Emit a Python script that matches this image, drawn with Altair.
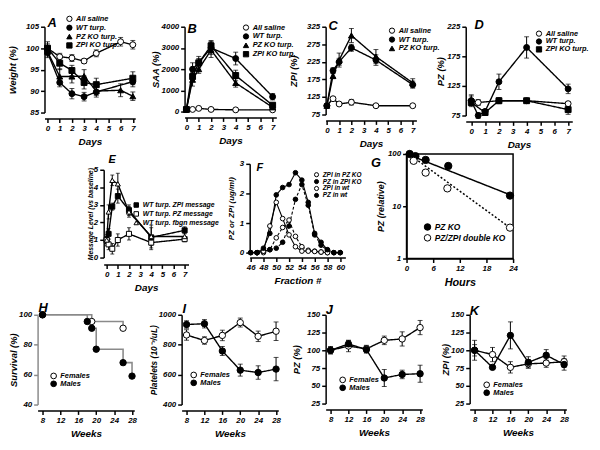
import altair as alt
import pandas as pd

FONT = "Liberation Sans"

# ---------------- data ----------------
# A: body weight (%)
A_SERIES = ["All saline", "WT turp.", "PZ KO turp.", "ZPI KO turp."]
A_X = [[0, 1, 2, 3, 4, 6, 7], [0, 1, 2, 3, 4, 7], [0, 1, 2, 3, 4, 6, 7], [0, 1, 2, 3, 4, 7]]
A_Y = [[100, 98, 97.7, 97, 98.8, 101.5, 100.8],
       [99, 92, 89.4, 88.7, 89.8, 92.2],
       [99.2, 93.4, 93.4, 93.5, 90, 90.2, 88.8],
       [100, 96.5, 94.8, 92, 91.5, 93]]
A_E = [[1.5, 0.8, 0.8, 0.5, 0.8, 1.0, 1.0],
       [1.2, 1.0, 1.2, 1.0, 1.2, 1.2],
       [1.0, 1.8, 1.5, 1.5, 1.0, 1.5, 1.0],
       [1.0, 1.5, 1.2, 1.5, 1.5, 1.5]]

# B: SAA (%)
B_SERIES = ["All saline", "WT turp.", "PZ KO turp.", "ZPI KO turp."]
B_X = [[0, 0.5, 1, 2, 4, 7]] * 4
B_Y = [[100, 100, 150, 100, 80, 80],
       [100, 2000, 2300, 3000, 2500, 700],
       [100, 1500, 2000, 2900, 1350, 200],
       [100, 1650, 2300, 3100, 1700, 300]]
B_E = [[0, 0, 0, 0, 0, 0],
       [0, 300, 300, 300, 300, 150],
       [0, 300, 200, 350, 200, 80],
       [0, 200, 200, 250, 250, 100]]

# C: ZPI (%)
C_SERIES = ["All saline", "WT turp.", "PZ KO turp."]
C_X = [[0, 0.5, 1, 2, 4, 7]] * 3
C_Y = [[100, 120, 105, 110, 100, 100],
       [100, 200, 225, 265, 230, 160],
       [100, 185, 230, 300, 240, 165]]
C_E = [[3, 5, 3, 8, 3, 3],
       [5, 8, 10, 10, 15, 10],
       [5, 8, 20, 20, 20, 12]]

# D: PZ (%)
D_SERIES = ["All saline", "WT turp.", "ZPI KO turp."]
D_X = [[0, 0.5, 2, 4, 7], [0, 0.5, 1, 2, 4, 7], [0, 1, 2, 4, 7]]
D_Y = [[100, 97, 100, 100, 95],
       [100, 75, 82, 132, 190, 120],
       [97, 80, 100, 100, 85]]
D_E = [[8, 5, 3, 3, 3],
       [10, 5, 3, 13, 18, 8],
       [5, 5, 5, 3, 8]]

# E: message level (vs baseline)
E_SERIES = ["WT turp. ZPI message", "WT turp. PZ message", "WT turp. fbgn message"]
E_X = [[0, 0.17, 0.5, 1, 2, 4, 7]] * 3
E_Y = [[1.0, 1.35, 2.9, 3.5, 2.7, 1.15, 1.55],
       [1.0, 0.75, 0.5, 1.0, 1.35, 0.85, 1.05],
       [1.0, 2.6, 4.4, 4.2, 2.6, 1.2, 1.2]]
E_E = [[0.2, 0.3, 0.2, 0.4, 0.3, 0.7, 0.2],
       [0.2, 0.3, 0.3, 0.35, 0.35, 0.3, 0.15],
       [0.3, 0.4, 0.3, 0.6, 0.3, 0.5, 0.2]]

# F: fractionation profiles
F_SERIES = ["ZPI in PZ KO", "PZ in ZPI KO", "ZPI in wt", "PZ in wt"]
F_X = [list(range(47, 59)), list(range(46, 61)), list(range(47, 59)), list(range(46, 61))]
F_Y = [[0, 0, 0.1, 0.5, 0.85, 1.1, 0.55, 0.2, 0.08, 0.05, 0.02, 0],
       [0, 0, 0.05, 0.1, 0.15, 0.35, 0.9, 1.8, 2.3, 1.6, 0.6, 0.25, 0.08, 0, 0],
       [0, 0.05, 0.9, 1.7, 1.15, 0.6, 0.2, 0.05, 0.05, 0.04, 0.02, 0],
       [0, 0, 0.15, 0.65, 1.95, 2.2, 2.3, 2.7, 2.45, 1.7, 0.65, 0.35, 0.1, 0, 0]]

# G: clearance (relative, log)
G_SERIES = ["PZ KO", "PZ/ZPI double KO"]
G_X = [[0.7, 2, 4.3, 9.4, 23.3], [1.6, 4.3, 9.2, 23.3]]
G_Y = [[100, 91, 77, 59, 16], [74, 44, 22, 3.9]]
G_FIT_X = [[0, 23.3], [0.5, 23.3]]
G_FIT_Y = [[100, 16.6], [100, 3.9]]

# H: survival (%)
H_SERIES = ["Females", "Males"]
H_X = [[8, 19, 26], [8, 18, 19, 20, 26, 28]]
H_Y = [[100, 95.5, 91], [100, 95.5, 91, 77, 68, 59]]

# I: platelets
WEEKS = [8, 12, 16, 20, 24, 28]
I_Y = [[865, 828, 862, 948, 856, 890], [935, 940, 758, 630, 614, 637]]
I_E = [[35, 25, 35, 30, 35, 62], [25, 28, 30, 40, 45, 78]]

# J: PZ (%)
J_Y = [[100, 106, 102, 114, 116, 132], [100, 109, 101, 61, 66, 67]]
J_E = [[5, 8, 5, 6, 10, 10], [5, 5, 5, 12, 6, 12]]

# K: ZPI (%)
K_Y = [[100, 94, 76, 81, 82, 84], [100, 76, 121, 83, 93, 80]]
K_E = [[14, 10, 8, 6, 6, 8], [8, 3, 19, 8, 8, 8]]

SEX = ["Females", "Males"]

DASH_NAMES = ["solid", "dash", "dot"]
DASH_VALUES = [[1, 0], [3, 2], [2, 2]]


def frame(series, xs, ys, es=None, dashes=None):
    rows = []
    for k, s in enumerate(series):
        for i, (x, y) in enumerate(zip(xs[k], ys[k])):
            e = es[k][i] if es else 0
            d = dashes[k] if dashes else "solid"
            rows.append({"s": s, "d": d, "x": x, "y": y, "lo": y - e, "hi": y + e, "e": e})
    return pd.DataFrame(rows)


def panel(df, series, shapes, fills, w, h, xdom, xvals, ydom, yvals,
          xtitle, ytitle, letter, tdx, tdy, legx, legy, clip=8, lfs=7.5,
          size=36, xoff=6, ylog=False, boxed=False, line_color="black",
          step=False, ycolor="black", fit=None, lw=1.4, ytfs=9.5, xtfs=10, cap=5,
          ytp=2, tfs=13):
    xs = alt.Scale(domain=xdom, nice=False, zero=False)
    ys = alt.Scale(domain=ydom, nice=False, zero=False,
                   type="log" if ylog else "linear")
    xax = alt.Axis(values=xvals, title=xtitle, offset=xoff, titleFontSize=xtfs, format="d")
    yax = alt.Axis(values=yvals, title=ytitle, domainColor=ycolor, tickColor=ycolor,
                   titleFontSize=ytfs, format="d", titlePadding=ytp)
    X = alt.X("x:Q", scale=xs, axis=xax)
    Y = alt.Y("y:Q", scale=ys, axis=yax)
    base = alt.Chart(df)
    eb = base.transform_filter("datum.e > 0")
    layers = [
        eb.mark_rule(color="black", strokeWidth=1).encode(
            x=X, y=alt.Y("lo:Q", scale=ys, axis=yax), y2="hi:Q"),
        eb.mark_tick(color="black", orient="horizontal", size=cap, thickness=1).encode(
            x=X, y=alt.Y("lo:Q", scale=ys, axis=yax)),
        eb.mark_tick(color="black", orient="horizontal", size=cap, thickness=1).encode(
            x=X, y=alt.Y("hi:Q", scale=ys, axis=yax)),
    ]
    line_src = base if fit is None else alt.Chart(fit)
    layers.append(line_src.mark_line(
        color=line_color, strokeWidth=lw,
        interpolate="step-after" if step else "linear").encode(
        x=X, y=Y, detail="s:N",
        strokeDash=alt.StrokeDash("d:N", scale=alt.Scale(domain=DASH_NAMES, range=DASH_VALUES),
                                  legend=None)))
    leg = alt.Legend(orient="none", legendX=legx, legendY=legy, title=None,
                     labelFont=FONT, labelFontSize=lfs, labelFontStyle="italic",
                     labelFontWeight="bold", labelColor="black",
                     symbolSize=size * 0.8, symbolStrokeWidth=1, rowPadding=0,
                     clipHeight=clip, padding=0, labelOffset=3)
    layers.append(base.mark_point(filled=True, size=size, strokeWidth=1, opacity=1).encode(
        x=X, y=Y,
        shape=alt.Shape("s:N", scale=alt.Scale(domain=series, range=shapes), legend=leg),
        fill=alt.Fill("s:N", scale=alt.Scale(domain=series, range=fills), legend=leg),
        stroke=alt.Stroke("s:N", scale=alt.Scale(domain=series, range=["black"] * len(series)),
                          legend=leg)))
    ch = alt.layer(*layers).properties(
        width=w, height=h,
        title=alt.TitleParams(letter, anchor="start", frame="group", dx=tdx, dy=tdy,
                              offset=0, baseline="alphabetic", font=FONT, fontSize=tfs,
                              fontStyle="italic", fontWeight="bold", color="black"))
    if boxed:
        ch = ch.properties(view=alt.ViewBackground(stroke="black", strokeWidth=1.5))
    return ch


def spacer(w, h):
    return alt.Chart(alt.Data(values=[])).mark_point().encode(
        x=alt.X("v:Q", axis=None), y=alt.Y("v:Q", axis=None)).properties(width=w, height=h)


C4 = ["circle", "circle", "triangle-up", "square"]
F4 = ["white", "black", "black", "black"]
DAYS = list(range(0, 8))

pA = panel(frame(A_SERIES, A_X, A_Y, A_E), A_SERIES, C4, F4,
           92, 87, [-0.25, 7.2], DAYS, [85, 105], [85, 90, 95, 100, 105],
           "Days", "Weight (%)", "A", 3, 25.7, 21.5, -12.15, clip=8.3, ytp=8.5)
pB = panel(frame(B_SERIES, B_X, B_Y, B_E), B_SERIES, C4, F4,
           93, 86, [-0.15, 7.3], DAYS, [0, 4000], [0, 1000, 2000, 3000, 4000],
           "Days", "SAA (%)", "B", 3, 23.2, 58.5, -3.5, clip=8.7, ytp=0.5)
pC = panel(frame(C_SERIES, C_X, C_Y, C_E), C_SERIES,
           ["circle", "circle", "triangle-up"], ["white", "black", "black"],
           92, 89, [-0.1, 7.3], DAYS, [75, 325], [75, 125, 175, 225, 275, 325],
           "Days", "ZPI (%)", "C", 3, 20.2, 63.5, -0.25, clip=8.5, ytp=8.5)
pD = panel(frame(D_SERIES, D_X, D_Y, D_E), D_SERIES,
           ["circle", "circle", "square"], ["white", "black", "black"],
           108, 90, [-0.4, 7.3], DAYS, [75, 225], [75, 125, 175, 225],
           "Days", "PZ (%)", "D", 9, 19.2, 70.5, 3, clip=8, ytp=1.5)

pE = panel(frame(E_SERIES, E_X, E_Y, E_E), E_SERIES,
           ["square", "square", "triangle-up"], ["black", "white", "white"],
           86, 89, [-0.27, 7.35], DAYS, [0, 5], [0, 1, 2, 3, 4, 5],
           "Days", "Message Level (vs baseline)", "E", 5, 8.4, 29.5, 32, clip=7.5,
           lfs=7, size=26, xoff=7, ytfs=7, cap=4, ytp=0, tfs=11)
pF = panel(frame(F_SERIES, F_X, F_Y, dashes=["dash", "dash", "solid", "solid"]), F_SERIES,
           ["circle"] * 4, ["white", "black", "white", "black"],
           97, 90, [45.85, 60.8], list(range(46, 61, 2)), [0, 3], [0, 1, 2, 3],
           "Fraction #", "PZ or ZPI (ug/ml)", "F", 7, 22.4, 64.5, 7.5, clip=7,
           lfs=6.5, size=22, xoff=5, ytfs=8, lw=1.1, ytp=4, tfs=11)
pG = panel(frame(G_SERIES, G_X, G_Y), G_SERIES,
           ["circle", "circle"], ["black", "white"],
           108, 106, [0, 24], [0, 6, 12, 18, 24], [1, 100], [1, 10, 100],
           "Hours", "PZ (relative)", "G", -36, 32.2, 17, 68.5, clip=11,
           lfs=8.5, size=55, xoff=0, ylog=True, boxed=True,
           fit=frame(G_SERIES, G_FIT_X, G_FIT_Y, dashes=["solid", "dot"]), lw=1.5,
           ytfs=9, xtfs=11, ytp=1.5)

WK = [8, 12, 16, 20, 24, 28]
pH = panel(frame(H_SERIES, H_X, H_Y), H_SERIES, ["circle", "circle"], ["white", "black"],
           98, 91, [6.9, 28.5], WK, [40, 100], [40, 60, 80, 100],
           "Weeks", "Survival (%)", "H", 1, 15.2, 12.5, 58, size=42,
           step=True, line_color="#8a8a8a", ycolor="#8a8a8a", lw=1.6, ytp=0)
pI = panel(frame(SEX, [WEEKS] * 2, I_Y, I_E), SEX, ["circle", "circle"], ["white", "black"],
           98, 91, [6.9, 28.5], WK, [400, 1000], [400, 600, 800, 1000],
           "Weeks", "Platelets (10\u207b\u00b3/uL)", "I", 1, 15.2, 8.5, 57, size=42,
           ytfs=8.5, ytp=0)
pJ = panel(frame(SEX, [WEEKS] * 2, J_Y, J_E), SEX, ["circle", "circle"], ["white", "black"],
           98, 90, [6.9, 28.5], WK, [25, 150], [25, 50, 75, 100, 125, 150],
           "Weeks", "PZ (%)", "J", 0, 16.2, 13.5, 62, size=42, ytp=5)
pK = panel(frame(SEX, [WEEKS] * 2, K_Y, K_E), SEX, ["circle", "circle"], ["white", "black"],
           98, 90, [6.9, 28.5], WK, [25, 150], [25, 50, 75, 100, 125, 150],
           "Weeks", "ZPI  (%)", "K", 0, 17.2, 13.5, 67, size=42, ytp=0)

IND = dict(shape="independent", fill="independent", stroke="independent",
           strokeDash="independent")


def stack(top_gap, panel_chart):
    # shift a panel down inside its row by an empty spacer above it
    return alt.vconcat(spacer(1, top_gap), panel_chart, spacing=0, bounds="flush"
                       ).resolve_scale(**IND).resolve_legend(**IND)


row1 = alt.hconcat(spacer(6, 1), pA, pB, pC, pD, spacing=50, bounds="flush"
                   ).resolve_scale(**IND).resolve_legend(**IND)
row2 = alt.hconcat(spacer(54, 1), stack(16, pE), spacer(24, 1), stack(10, pF),
                   spacer(35, 1), pG, spacing=62, bounds="flush"
                   ).resolve_scale(**IND).resolve_legend(**IND)
row3 = alt.hconcat(spacer(1, 1), pH, pI, pJ, pK, spacing=48, bounds="flush"
                   ).resolve_scale(**IND).resolve_legend(**IND)

chart = alt.vconcat(spacer(1, 20), row1, spacer(1, 129), row2, spacer(1, 163), row3,
                    spacing=0, bounds="flush").resolve_scale(**IND).resolve_legend(**IND)

chart = chart.properties(padding={"left": -19, "top": -4, "right": 2, "bottom": 2},
                         background="white").configure_view(stroke=None).configure_axis(
    domainColor="black", domainWidth=1.5, tickColor="black", tickWidth=1.5, tickSize=4,
    labelFont=FONT, labelFontSize=8, labelFontStyle="italic", labelFontWeight="bold",
    labelColor="black", labelPadding=2, labelOverlap=False, labelFlush=False,
    titleFont=FONT, titleFontStyle="italic", titleFontWeight="bold", titleColor="black",
    grid=False, minExtent=0
)

chart.save("out.html", embed_options={"renderer": "svg", "actions": False})
